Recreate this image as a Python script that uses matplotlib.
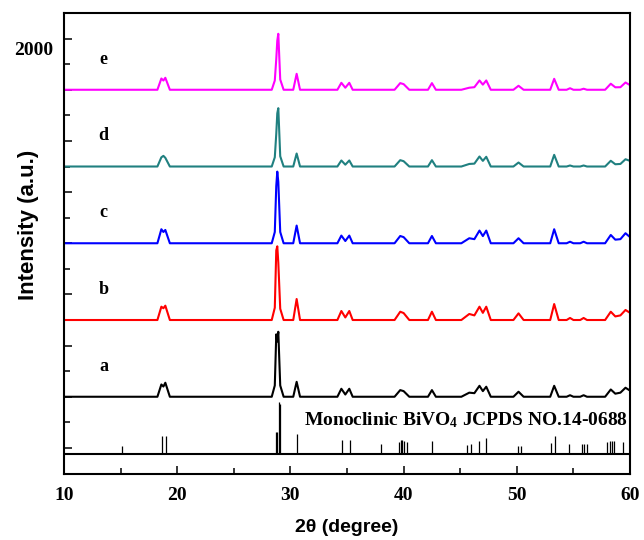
import matplotlib
matplotlib.use('Agg')
import matplotlib.pyplot as plt
import matplotlib.transforms as mtransforms

plt.rcParams['mathtext.fontset'] = 'custom'
plt.rcParams['mathtext.bf'] = 'Liberation Serif:bold'
plt.rcParams['mathtext.rm'] = 'Liberation Serif:bold'
plt.rcParams['mathtext.default'] = 'bf'

# 2theta vertices shared by all patterns
two_theta = [10.0, 18.25, 18.6, 18.78, 18.95, 19.35,
             28.35, 28.62, 28.75, 28.84, 28.93, 29.1, 29.4,
             30.25, 30.55, 30.85,
             34.15, 34.5, 34.85, 35.2, 35.5,
             39.2, 39.7, 40.0, 40.5,
             42.15, 42.5, 42.85,
             45.1, 45.8, 46.25, 46.7, 47.0, 47.3, 47.7,
             49.7, 50.15, 50.6,
             52.95, 53.3, 53.7,
             54.4, 54.7, 55.0,
             55.6, 55.9, 56.2,
             57.8, 58.3, 58.7, 59.15, 59.6, 60.0]

int_e = [0, 0, 110, 90, 117, 0,
         0, 90, 300, 480, 547, 100, 0,
         0, 156, 0,
         0, 68, 20, 68, 0,
         0, 65, 55, 0,
         0, 65, 0,
         0, 20, 25, 91, 50, 91, 0,
         0, 39, 0,
         0, 107, 0,
         0, 15, 0,
         0, 10, 0,
         0, 59, 24, 25, 71, 45]

int_d = [0, 0, 90, 104, 85, 0,
         0, 90, 320, 520, 570, 100, 0,
         0, 127, 0,
         0, 59, 18, 59, 0,
         0, 62, 52, 0,
         0, 62, 0,
         0, 25, 28, 98, 55, 95, 0,
         0, 39, 0,
         0, 114, 0,
         0, 10, 0,
         0, 10, 0,
         0, 56, 22, 25, 71, 55]

int_c = [0, 0, 137, 110, 130, 0,
         0, 110, 560, 700, 600, 110, 0,
         0, 173, 0,
         0, 75, 22, 75, 0,
         0, 71, 60, 0,
         0, 71, 0,
         0, 49, 40, 124, 70, 124, 0,
         0, 49, 0,
         0, 137, 0,
         0, 15, 0,
         0, 15, 0,
         0, 81, 35, 40, 98, 60]

int_b = [0, 0, 130, 115, 140, 0,
         0, 120, 680, 720, 560, 110, 0,
         0, 205, 0,
         0, 88, 25, 88, 0,
         0, 81, 68, 0,
         0, 81, 0,
         0, 59, 45, 130, 70, 130, 0,
         0, 65, 0,
         0, 156, 0,
         0, 20, 0,
         0, 20, 0,
         0, 81, 35, 45, 98, 70]

int_a = [0, 0, 120, 100, 137, 0,
         0, 110, 610, 540, 635, 110, 0,
         0, 146, 0,
         0, 78, 22, 78, 0,
         0, 65, 55, 0,
         0, 65, 0,
         0, 40, 35, 107, 55, 98, 0,
         0, 49, 0,
         0, 107, 0,
         0, 15, 0,
         0, 15, 0,
         0, 71, 30, 40, 88, 60]

labels = ['a', 'b', 'c', 'd', 'e']
offsets = [-1500, -750, 0, 750, 1500]
colors = ['black', 'red', 'blue', '#208080', 'magenta']
series = [int_a, int_b, int_c, int_d, int_e]

# JCPDS 14-0688 reference lines
ref_pos = [15.15, 18.7, 19.0, 28.75, 28.85, 28.97, 29.08, 30.6, 34.55, 35.25,
           38.0, 39.6, 39.75, 39.9, 40.05, 40.3, 42.5, 45.6, 45.95, 46.7,
           47.3, 50.1, 50.35, 53.05, 53.35, 54.65, 55.75, 55.95, 56.2, 58.0,
           58.2, 58.4, 58.6, 59.35]
ref_int = [78, 176, 176, 215, 215, 508, 488, 195, 137, 137,
           98, 117, 137, 137, 127, 117, 127, 88, 98, 127,
           156, 78, 78, 107, 176, 98, 98, 98, 98, 117,
           127, 127, 127, 117]
ref_base = -2060

fig = plt.figure(figsize=(6.44, 5.40), dpi=100)
ax = fig.add_axes([0.0994, 0.1222, 0.8789, 0.8537])

for y, off, c, lab in zip(series, offsets, colors, labels):
    ax.plot(two_theta, [v + off for v in y], color=c, lw=1.5)
    ax.text(13.5, off + 300, lab, ha='center', va='center',
            fontfamily='Liberation Serif', fontweight='bold', fontsize=13)

ax.axhline(ref_base, color='black', lw=1.5)
ax.vlines(ref_pos, ref_base, [ref_base + v for v in ref_int], color='black', lw=0.9)
ax.text(59.8, -1780, 'Monoclinic BiVO$_4$ JCPDS NO.14-0688', ha='right', va='baseline',
        fontfamily='Liberation Serif', fontweight='bold', fontsize=14)

ax.set_xlim(10, 60)
ax.set_ylim(-2255, 2245)
ax.set_xticks([10, 20, 30, 40, 50, 60])
ax.set_xticks([15, 25, 35, 45, 55], minor=True)
yt = list(range(-2000, 2001, 500))
ax.set_yticks(yt)
ax.set_yticklabels(['2000' if v == 2000 else '' for v in yt])
ax.set_yticks(list(range(-2250, 2251, 500)), minor=True)

ax.tick_params(which='major', direction='in', length=6, width=1.1, top=False, right=False, pad=9)
ax.tick_params(which='minor', direction='in', length=4, width=1.1, top=False, right=False)
ax.tick_params(axis='y', which='major', pad=8)
for t in ax.get_xticklabels() + ax.get_yticklabels():
    t.set_fontfamily('Liberation Serif')
    t.set_fontweight('bold')
    t.set_fontsize(14)
shift = mtransforms.ScaledTranslation(0, -10 / 100, fig.dpi_scale_trans)
for t in ax.get_yticklabels():
    t.set_transform(t.get_transform() + shift)

for s in ax.spines.values():
    s.set_linewidth(1.5)

ax.set_xlabel('2\u03b8 (degree)', fontfamily='Liberation Sans', fontweight='bold', fontsize=14, va='center')
ax.xaxis.set_label_coords(0.5, -0.117)
ax.set_ylabel('Intensity (a.u.)', fontfamily='Liberation Sans', fontweight='bold', fontsize=16, va='center')
ax.yaxis.set_label_coords(-0.062, 0.54)

fig.savefig('out.png', dpi=100)
